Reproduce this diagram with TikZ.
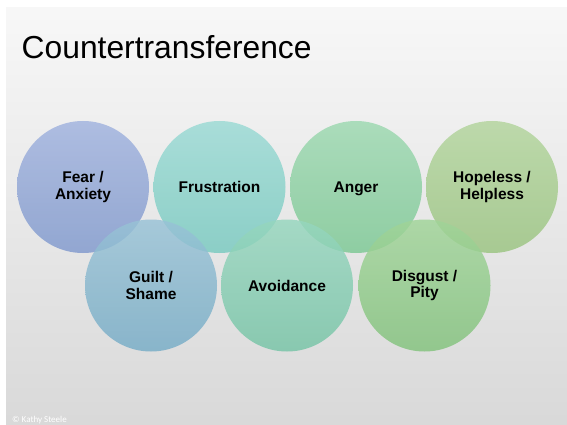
\documentclass[tikz,border=0pt]{standalone}
\usepackage{fontspec}
\setmainfont{Liberation Sans}
\newfontfamily\copyfont{Carlito}
\begin{document}
\begin{tikzpicture}[x=1pt,y=-1pt,
  bubble/.style={circle, minimum size=132pt, inner sep=0pt,
    align=center, font=\fontsize{15.5}{16.5}\selectfont\bfseries, text=black},
  disc/.style={fill opacity=0.82},
  lbl/.style={inner sep=0pt}]
\useasboundingbox (0,0) rectangle (567,425);
\shade[top color=white!97!black, bottom color=white!85!black] (6,8) rectangle (567,425);
\node[lbl, anchor=base west, font=\fontsize{31.8}{36}\selectfont] (title) at (21.5,59) {Countertransference};
% circles
\shade[disc, top color={rgb,255:red,160;green,178;blue,222}, bottom color={rgb,255:red,128;green,153;blue,205}] (83,187) circle[radius=66];
\shade[disc, top color={rgb,255:red,154;green,218;blue,212}, bottom color={rgb,255:red,120;green,202;blue,192}] (219.5,187) circle[radius=66];
\shade[disc, top color={rgb,255:red,156;green,216;blue,176}, bottom color={rgb,255:red,124;green,200;blue,148}] (356,187) circle[radius=66];
\shade[disc, top color={rgb,255:red,178;green,212;blue,156}, bottom color={rgb,255:red,154;green,196;blue,128}] (492,187) circle[radius=66];
\shade[disc, top color={rgb,255:red,152;green,194;blue,214}, bottom color={rgb,255:red,118;green,172;blue,198}] (151,285.5) circle[radius=66];
\shade[disc, top color={rgb,255:red,150;green,214;blue,190}, bottom color={rgb,255:red,118;green,196;blue,166}] (287,285.5) circle[radius=66];
\shade[disc, top color={rgb,255:red,160;green,212;blue,152}, bottom color={rgb,255:red,130;green,194;blue,124}] (424.5,285.5) circle[radius=66];
% labels
\node[bubble] (fear) at (83,187) {Fear /\\Anxiety};
\node[bubble] (frus) at (219.5,187) {Frustration};
\node[bubble] (anger) at (356,187) {\raisebox{0pt}[\height][0pt]{Anger}};
\node[bubble] (hope) at (492,187) {Hopeless /\\Helpless};
\node[bubble] (guilt) at (151,285.5) {Guilt /\\Shame};
\node[bubble] (avoid) at (287,285.5) {Avoidance};
\node[bubble] (disg) at (424.5,285.5) {Disgust /\\Pity};
\node[lbl, anchor=base west, text=white, font=\copyfont\fontsize{9}{10}\selectfont] (copy) at (12,422.5) {© Kathy Steele};
\end{tikzpicture}
\end{document}
